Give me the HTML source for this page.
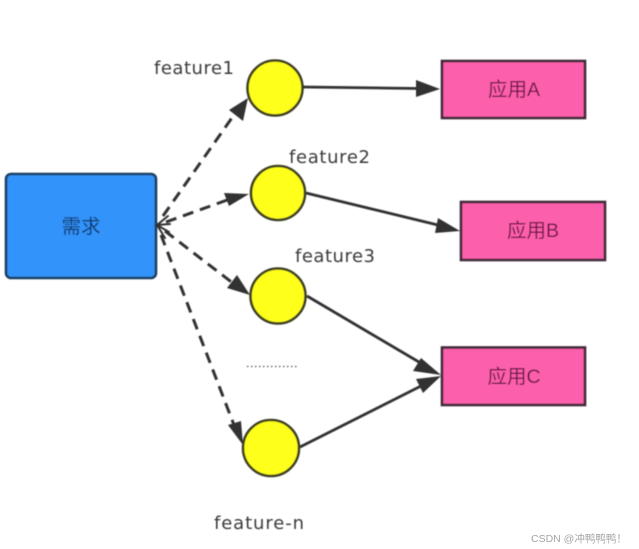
<!DOCTYPE html>
<html>
<head>
<meta charset="utf-8">
<style>
html,body{margin:0;padding:0;background:#fff;width:639px;height:549px;overflow:hidden}
svg{display:block}
text{font-family:"DejaVu Sans","Noto Sans CJK SC",sans-serif}
.zh{font-family:"Liberation Sans","Noto Sans CJK SC",sans-serif;font-size:19.500px;text-anchor:middle}
.lb{font-family:"DejaVu Sans",sans-serif;font-size:18px;fill:#3a3a3a}
</style>
</head>
<body>
<svg width="639" height="549" viewBox="0 0 639 549" xmlns="http://www.w3.org/2000/svg">
<defs><filter id="b" x="-5%" y="-5%" width="110%" height="110%"><feGaussianBlur stdDeviation="0.45"/></filter></defs>
<g filter="url(#b)">
<rect x="6" y="174" width="150" height="104" rx="5" fill="#3193fb" stroke="#1d3f62" stroke-width="2.6"/>
<text class="zh" x="81" y="233" fill="#123662">需求</text>

<g stroke="#333" stroke-width="3" fill="none" stroke-dasharray="11 7">
<line x1="163" y1="216" x2="236" y2="112"/>
<line x1="166" y1="222" x2="230" y2="199"/>
<line x1="165" y1="231" x2="234" y2="284"/>
<line x1="161" y1="235" x2="234" y2="425"/>
</g>
<g stroke="#333" stroke-width="2" fill="none" stroke-linecap="round">
<polyline points="168,216 157,225 170,224"/>
<polyline points="169,232 157,225 165,238"/>
</g>
<g fill="#333">
<polygon points="248,98 243,121 229,110"/>
<polygon points="249,194 229,206 224,193"/>
<polygon points="250,295 227,288 237,275"/>
<polygon points="243,445 228,425 241,421"/>
</g>

<g fill="#ffff1a" stroke="#3f3f22" stroke-width="2.6">
<circle cx="275" cy="88" r="27.5"/>
<circle cx="278" cy="193" r="27"/>
<circle cx="278" cy="296" r="27.5"/>
<circle cx="271" cy="448" r="28"/>
</g>

<g stroke="#333" stroke-width="2.8" fill="none">
<line x1="303" y1="87" x2="420" y2="88.5"/>
<line x1="306" y1="193" x2="442" y2="226"/>
<line x1="307" y1="296" x2="424" y2="365"/>
<line x1="300" y1="447" x2="423" y2="385"/>
</g>
<g fill="#333">
<polygon points="440,89 416,80 416,97"/>
<polygon points="460,231 438,218 435,233"/>
<polygon points="441,375 421,358 413,371"/>
<polygon points="441,376 416,379 423,393"/>
</g>

<g fill="#fc5fab" stroke="#3c2a38" stroke-width="2.6">
<rect x="442" y="61" width="143" height="57"/>
<rect x="461" y="202" width="144" height="58"/>
<rect x="442" y="347.500" width="143" height="57.500"/>
</g>
<text class="zh" x="514" y="96" fill="#6a1445">应用A</text>
<text class="zh" x="533" y="237" fill="#6a1445">应用B</text>
<text class="zh" x="514" y="383" fill="#6a1445">应用C</text>

<text class="lb" x="154" y="74" textLength="80" lengthAdjust="spacing">feature1</text>
<text class="lb" x="289" y="163" textLength="81" lengthAdjust="spacing">feature2</text>
<text class="lb" x="295" y="262" textLength="80" lengthAdjust="spacing">feature3</text>
<text class="lb" x="214" y="529" textLength="90" lengthAdjust="spacing">feature-n</text>
<line x1="247" y1="366.500" x2="299" y2="366.500" stroke="#555" stroke-width="1.2" stroke-dasharray="1.500 2.500"/>
</g>
<text x="531" y="542" font-size="10.500" fill="#a5a5a5" style="font-family:'Liberation Sans','Noto Sans CJK SC',sans-serif">CSDN @冲鸭鸭鸭！</text>
</svg>
</body>
</html>
